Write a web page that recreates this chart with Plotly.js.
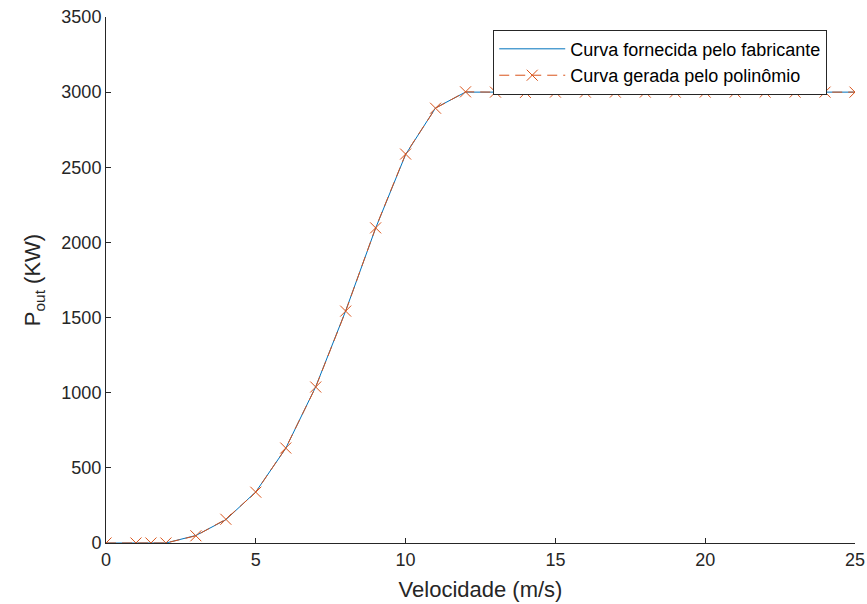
<!DOCTYPE html>
<html>
<head>
<meta charset="utf-8">
<script src="https://cdn.plot.ly/plotly-3.0.1.min.js"></script>
<style>html,body{margin:0;padding:0;background:#fff}#chart{width:867px;height:604px}</style>
</head>
<body>
<div id="chart"></div>
<script>
const velocidade = [0, 1, 1.5, 2, 3, 4, 5, 6, 7, 8, 9, 10, 11, 12, 13, 14, 15, 16, 17, 18, 19, 20, 21, 22, 23, 24, 25];
const potenciaFabricante = [0, 0, 0, 0, 50, 155, 340, 630, 1040, 1545, 2095, 2585, 2895, 3000, 3000, 3000, 3000, 3000, 3000, 3000, 3000, 3000, 3000, 3000, 3000, 3000, 3000];
const potenciaPolinomio = [0, 0, 0, 0, 48, 158, 338, 632, 1038, 1543, 2097, 2588, 2893, 3002, 3000, 2998, 3000, 3000, 3000, 3000, 3000, 3000, 3000, 3000, 3000, 3000, 3000];
const xTicks = [0, 5, 10, 15, 20, 25];
const yTicks = [0, 500, 1000, 1500, 2000, 2500, 3000, 3500];

const traces = [
  {x: velocidade, y: potenciaFabricante, type: 'scatter', mode: 'lines',
   name: 'Curva fornecida pelo fabricante', line: {color: '#0072BD', width: 1}},
  {x: velocidade, y: potenciaPolinomio, type: 'scatter', mode: 'lines+markers',
   name: 'Curva gerada pelo polinômio', line: {color: '#D95319', width: 1, dash: '10px,6px'},
   marker: {symbol: 'x-thin-open', size: 11, color: '#D95319', line: {color: '#D95319', width: 1}}}
];

const layout = {
  width: 867, height: 604,
  margin: {l: 106, r: 12, t: 17, b: 61},
  paper_bgcolor: '#fff', plot_bgcolor: '#fff',
  font: {family: 'Liberation Sans, Arial, sans-serif', size: 18, color: '#262626'},
  showlegend: true,
  legend: {x: 0.517, y: 0.976, xanchor: 'left', yanchor: 'top', bgcolor: '#fff',
    bordercolor: '#262626', borderwidth: 1, font: {size: 18, color: '#000'}, itemwidth: 66,
    tracegroupgap: 0},
  xaxis: {range: [0, 25], tickvals: xTicks, ticktext: xTicks.map(String), ticks: 'inside', ticklen: 5,
    tickcolor: '#262626', showline: true, linecolor: '#262626', linewidth: 1, showgrid: false,
    zeroline: false, title: {text: 'Velocidade (m/s)', font: {size: 22, color: '#262626'}, standoff: 13},
    tickfont: {size: 18, color: '#262626'}},
  yaxis: {range: [0, 3500], tickvals: yTicks, ticktext: yTicks.map(String), ticks: 'inside', ticklen: 5,
    tickcolor: '#262626', showline: true, linecolor: '#262626', linewidth: 1, showgrid: false,
    zeroline: false, title: {text: 'P<sub>out</sub> (KW)', font: {size: 22, color: '#262626'}, standoff: 14},
    tickfont: {size: 18, color: '#262626'}}
};
Plotly.newPlot('chart', traces, layout, {displayModeBar: false});
</script>
</body>
</html>
